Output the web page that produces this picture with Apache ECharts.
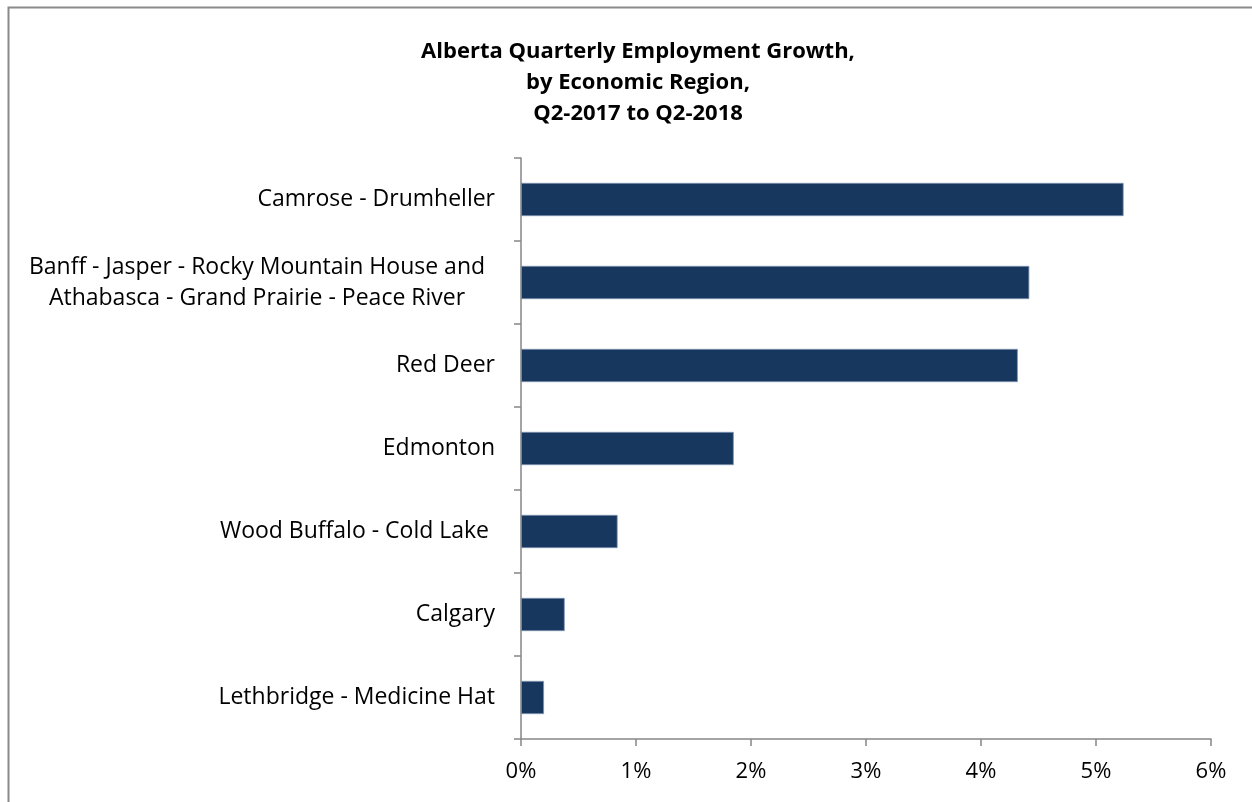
<!DOCTYPE html>
<html>
<head>
<meta charset="utf-8">
<script src="https://cdn.jsdelivr.net/npm/echarts@6/dist/echarts.min.js"></script>
<style>
html,body{margin:0;padding:0;background:#fff;}
#chart{width:1252px;height:802px;}
</style>
</head>
<body>
<div id="chart"></div>
<script>
const titleLines = ['Alberta Quarterly Employment Growth,', 'by Economic Region,', 'Q2-2017 to Q2-2018'];
// categories listed bottom to top
const categories = ['Lethbridge - Medicine Hat', 'Calgary', 'Wood Buffalo - Cold Lake ', 'Edmonton', 'Red Deer', 'Banff - Jasper - Rocky Mountain House and\nAthabasca - Grand Prairie - Peace River', 'Camrose - Drumheller'];
const growth = [0.20, 0.38, 0.84, 1.85, 4.32, 4.42, 5.24];
const xTicks = [0, 1, 2, 3, 4, 5, 6];

const FONT = 'Open Sans';
const chart = echarts.init(document.getElementById('chart'));
chart.setOption({
  animation: false,
  backgroundColor: '#fff',
  graphic: [{
    type: 'rect', silent: true,
    shape: {x: 8.5, y: 7.5, width: 1400, height: 1000},
    style: {fill: 'none', stroke: '#8a8a8a', lineWidth: 2}
  }],
  title: {
    text: titleLines.join('\n'),
    left: 633, textAlign: 'center', top: 31,
    textStyle: {fontFamily: FONT, fontWeight: 'bold', fontSize: 22, lineHeight: 31, color: '#000'}
  },
  grid: {left: 521, right: 41, top: 158, bottom: 63, containLabel: false},
  xAxis: {
    type: 'value', min: xTicks[0], max: xTicks[xTicks.length - 1], interval: 1,
    axisLine: {show: true, lineStyle: {color: '#868686', width: 1.5}},
    axisTick: {show: true, length: 7, lineStyle: {color: '#868686', width: 1.5}},
    splitLine: {show: false},
    axisLabel: {formatter: '{value}%', fontFamily: FONT, fontSize: 22, color: '#000', margin: 22}
  },
  yAxis: {
    type: 'category', data: categories,
    axisLine: {show: true, lineStyle: {color: '#868686', width: 1.5}},
    axisTick: {show: true, length: 7, lineStyle: {color: '#868686', width: 1.5}},
    axisLabel: {
      fontFamily: FONT, fontSize: 23, color: '#000', margin: 26, lineHeight: 31,
      formatter: function (v) {
        if (v.indexOf('\n') >= 0) {
          return v.split('\n').map(s => '{c|' + s + '}').join('\n');
        }
        return v;
      },
      rich: {c: {width: 466, align: 'center', fontFamily: FONT, fontSize: 23, color: '#000', lineHeight: 31, padding: [0, 5, 0, 0]}}
    }
  },
  series: [{
    type: 'bar', data: growth, barCategoryGap: '60%',
    itemStyle: {color: '#17375E', borderColor: '#7d93b0', borderWidth: 0.8}
  }]
});
</script>
</body>
</html>
